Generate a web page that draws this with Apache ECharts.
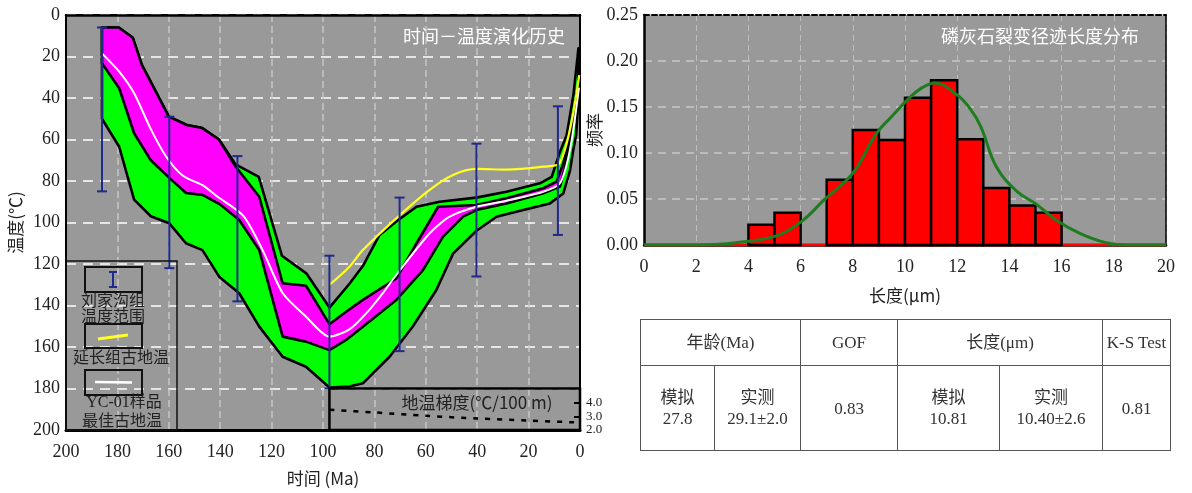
<!DOCTYPE html>
<html><head><meta charset="utf-8">
<script src="https://cdn.jsdelivr.net/npm/echarts@6/dist/echarts.min.js"></script>
<style>
html,body{margin:0;padding:0;background:#fff;}
#wrap{position:relative;width:1192px;height:493px;overflow:hidden;}
#chart{position:absolute;left:0;top:0;width:1192px;height:493px;}
#tbl{position:absolute;left:640px;top:319px;border-collapse:collapse;font-family:"Liberation Serif","Noto Sans CJK SC",serif;font-size:17px;color:#333;table-layout:fixed;}
#tbl td{border:1px solid #555;text-align:center;padding:0;line-height:21px;}
</style></head>
<body><div id="wrap"><div id="chart"></div><table id="tbl"></table></div>
<script>
// ---------- Left chart: time-temperature history (Ma, °C) ----------
const outerTop = [[186,6],[179.5,6],[174,11],[170.5,24],[165,37],[160,49],[153,53],[147,54.5],[140.5,60],[134,72],[125,78],[116,116],[106.5,124.5],[97.5,141],[89.7,129.5],[84.5,121],[78,106],[71.5,99.5],[63.6,92.4],[54.6,90],[40.3,88],[28.6,85.2],[15.6,81.1],[11,78],[7.8,66],[5.2,58],[2.5,38],[0.6,16]];
const outerBottom = [[0.6,40],[1.5,58],[2.6,65],[3.9,75],[6.5,86],[11.7,90.8],[22.1,94],[32.5,97.2],[40.3,104],[49.4,115],[55.9,132.5],[65,150],[74.1,164.7],[84.5,177.5],[89.7,179],[97.5,179.5],[106.6,169.5],[115.7,164.7],[124.8,150.2],[132.6,134.1],[140.4,126.1],[146.9,113.3],[153.3,110],[159.8,100.4],[167,97],[173.5,89],[179.3,63.5],[186,50]];
const goodTop = [[186,6],[179.5,6],[174,11],[170.5,24],[165,37],[160,49],[153,53],[147,54.5],[140.5,60],[134,73],[124.8,87.6],[115.7,129.3],[106.6,130.5],[97.5,149],[91,143],[84.5,137.3],[71.5,127],[63.6,110],[55.2,92.4],[40.3,91.6],[28.6,88.3],[14.3,83.5],[9.1,80.3],[6.5,71.5],[3.5,56],[1,36]];
const goodBottom = [[1,38],[3.5,60],[5.5,72],[7.8,82.7],[14.3,85.9],[28.6,90.8],[40.3,94],[45.5,97.2],[53.3,106.8],[61.1,122.9],[71.5,137.3],[84.5,150.2],[91,156.6],[97.5,161.5],[106.6,157.4],[115.7,155],[124.8,113.3],[132.6,98.8],[140.4,91],[146.9,86.7],[153.3,85.8],[159.8,78.5],[167,70],[173.5,57],[179.3,35.3],[186,23.3]];
const bestPath = [[186,18.5],[179.3,27.3],[173.5,37.7],[167,55],[161,68.3],[154.5,77.5],[146.9,82],[141,87.6],[131,96.8],[123.5,113.3],[115.7,134],[106.6,145.4],[97.5,155],[89.7,151.5],[83.2,143.8],[76.7,134],[71.5,125.3],[58.5,105.2],[50.7,97.2],[40.3,92.4],[28.6,89.5],[14.3,85.2],[7.8,81.1],[3.9,65],[0.4,35]];
const yanchangPaleo = [[97.5,130],[89.7,121.3],[84.5,113.3],[71.5,98],[58.5,84.3],[49.4,77.1],[40.3,74.2],[28.6,74.5],[14.3,73.1],[8,71.5],[0.3,29]];
// [age, Tmin, Tmax]
const liujiagouRange = [[186,6,85],[159.8,49,122],[133.3,68,138],[97.5,116,180],[70.2,88,162],[40.3,62,126],[8.6,44,106]];
// geothermal gradient (°C/100 m)
const gradient = [[97.5,3.5],[80,3.3],[60,3.05],[40,2.85],[20,2.7],[0,2.55]];
const gradientBox = [[97.5,180,0,200]];

// ---------- Right chart: track length histogram ----------
const binStart = [0,1,2,3,4,5,6,7,8,9,10,11,12,13,14,15,16,17,18,19];
const binFreq  = [0,0,0,0,0.022,0.035,0,0.071,0.125,0.114,0.160,0.179,0.115,0.062,0.043,0.035,0,0,0,0];
const binWidth = 1;
const fitCurve = [[0,0],[1,0],[2,0],[3,0.001],[3.5,0.0025],[4.5,0.006],[5.3,0.0125],[6.1,0.027],[6.9,0.049],[8,0.078],[8.9,0.121],[9.5,0.14],[10.1,0.158],[10.6,0.17],[11.15,0.176],[12,0.163],[12.5,0.148],[12.9,0.129],[13.5,0.085],[14.3,0.058],[15,0.045],[15.8,0.027],[16.7,0.0127],[17.7,0.0025],[18.5,0],[20,0]];

// ---------- Table ----------
const tableHead = [['年龄(Ma)',2],['GOF',1],['长度(μm)',2],['K-S Test',1]];
const tableBody = [['模拟','27.8'],['实测','29.1±2.0'],['0.83'],['模拟','10.81'],['实测','10.40±2.6'],['0.81']];
const colWidths = [74,86,97,102,103,68];

(function(){
  const t = document.getElementById('tbl');
  let html = '<colgroup>' + colWidths.map(w=>'<col style="width:'+w+'px">').join('') + '</colgroup>';
  html += '<tr style="height:46px">' + tableHead.map(h=>'<td colspan="'+h[1]+'">'+h[0]+'</td>').join('') + '</tr>';
  html += '<tr style="height:85px">' + tableBody.map(c=>'<td>'+c.join('<br>')+'</td>').join('') + '</tr>';
  t.innerHTML = html;
})();

const SERIF = '"Liberation Serif","Noto Sans CJK SC",serif';
const CJK = '"Noto Sans CJK SC","Liberation Serif",sans-serif';
const ebColor = '#1f2a8c';

function polygonRender(points, fill){
  return function(params, api){
    if (params.dataIndex !== 0) return null;
    const pts = points.map(p => api.coord(p));
    return {type:'polygon', shape:{points:pts}, style:{fill:fill, stroke:'#000', lineWidth:2.6, lineJoin:'round'}};
  };
}

const chart = echarts.init(document.getElementById('chart'));
const option = {
  animation:false,
  backgroundColor:'#fff',
  title:[
    {text:'时间－温度演化历史', right:622, top:22, textStyle:{color:'#fff', fontSize:18, fontWeight:'normal', fontFamily:CJK}},
    {text:'磷灰石裂变径迹长度分布', right:48, top:22, textStyle:{color:'#fff', fontSize:18, fontWeight:'normal', fontFamily:CJK}}
  ],
  grid:[
    {left:66, top:15, width:514, height:415, show:true, backgroundColor:'#999', borderColor:'#000', borderWidth:2},
    {left:66, top:390, width:514, height:40, show:false},
    {left:644, top:15, width:522, height:230, show:true, backgroundColor:'#999', borderWidth:0}
  ],
  xAxis:[
    {gridIndex:0, type:'value', min:0, max:200, interval:20, inverse:true, position:'bottom',
     name:'时间 (Ma)', nameLocation:'middle', nameGap:40, nameTextStyle:{fontSize:17, color:'#222', fontFamily:CJK},
     axisLine:{onZero:false, lineStyle:{color:'#000', width:3}}, axisTick:{show:false},
     axisLabel:{fontSize:18, color:'#222', fontFamily:SERIF, margin:13},
     splitLine:{show:true, lineStyle:{color:'#c6c6c6', type:[7,4], width:1.5}}},
    {gridIndex:1, type:'value', min:0, max:200, inverse:true, show:false},
    {gridIndex:2, type:'value', min:0, max:20, interval:2, position:'bottom',
     name:'长度(μm)', nameLocation:'middle', nameGap:42, nameTextStyle:{fontSize:17, color:'#222', fontFamily:CJK},
     axisLine:{onZero:false, lineStyle:{color:'#000', width:2.5}}, axisTick:{show:false},
     axisLabel:{fontSize:18, color:'#222', fontFamily:SERIF, margin:13},
     splitLine:{show:true, lineStyle:{color:'#bdbdbd', type:[6,4], width:1}}},
    {gridIndex:2, type:'value', min:0, max:20, position:'top',
     axisLine:{show:true, onZero:false, lineStyle:{color:'#000', width:2, type:[5,3]}}, axisTick:{show:false}, axisLabel:{show:false}, splitLine:{show:false}},
    {gridIndex:0, type:'value', min:0, max:200, inverse:true, position:'top',
     axisLine:{show:true, onZero:false, lineStyle:{color:'#000', width:2.5}}, axisTick:{show:false}, axisLabel:{show:false}, splitLine:{show:false}}
  ],
  yAxis:[
    {gridIndex:0, type:'value', min:0, max:200, interval:20, inverse:true, position:'left',
     name:'温度(℃)', nameLocation:'middle', nameGap:42, nameRotate:90, nameTextStyle:{fontSize:17, color:'#222', fontFamily:CJK},
     axisLine:{show:true, onZero:false, lineStyle:{color:'#000', width:2}}, axisTick:{show:false},
     axisLabel:{fontSize:18, color:'#222', fontFamily:SERIF, margin:6},
     splitLine:{show:true, lineStyle:{color:'#e6e6e6', type:[10,7], width:2}}},
    {gridIndex:1, type:'value', min:2, max:4.96, interval:1, position:'right',
     axisLine:{show:false, onZero:false},
     axisTick:{show:true, inside:true, length:6, lineStyle:{color:'#000', width:2}},
     axisLabel:{show:true, fontSize:13, color:'#222', fontFamily:SERIF, margin:6, showMinLabel:true, showMaxLabel:false, formatter:v=>Number(v).toFixed(1)},
     splitLine:{show:false}},
    {gridIndex:2, type:'value', min:0, max:0.25, interval:0.05, position:'left',
     name:'频率', nameLocation:'middle', nameGap:38, nameRotate:90, nameTextStyle:{fontSize:17, color:'#222', fontFamily:CJK},
     axisLine:{show:true, onZero:false, lineStyle:{color:'#000', width:2.5}}, axisTick:{show:false},
     axisLabel:{fontSize:18, color:'#222', fontFamily:SERIF, margin:6, formatter:v=>Number(v).toFixed(2)},
     splitLine:{show:true, lineStyle:{color:'#c8c8c8', type:[8,6], width:1.5}}},
    {gridIndex:2, type:'value', min:0, max:0.25, position:'right',
     axisLine:{show:true, onZero:false, lineStyle:{color:'#000', width:1.5}}, axisTick:{show:false}, axisLabel:{show:false}, splitLine:{show:false}},
    {gridIndex:0, type:'value', min:0, max:200, inverse:true, position:'right',
     axisLine:{show:true, onZero:false, lineStyle:{color:'#000', width:2}}, axisTick:{show:false}, axisLabel:{show:false}, splitLine:{show:false}}
  ],
  series:[
    {type:'custom', xAxisIndex:0, yAxisIndex:0, z:2, clip:true, renderItem:polygonRender(outerTop.concat(outerBottom), '#00ff00'),
     data:outerTop.concat(outerBottom), encode:{x:0,y:1}},
    {type:'custom', xAxisIndex:0, yAxisIndex:0, z:3, clip:true, renderItem:polygonRender(goodTop.concat(goodBottom), '#ff00ff'),
     data:goodTop.concat(goodBottom), encode:{x:0,y:1}},
    {type:'line', xAxisIndex:0, yAxisIndex:0, z:4, data:bestPath, smooth:0.25, showSymbol:false, symbol:'none',
     lineStyle:{color:'#ffffff', width:2}},
    {type:'line', xAxisIndex:0, yAxisIndex:0, z:5, data:yanchangPaleo, smooth:0.35, showSymbol:false, symbol:'none',
     lineStyle:{color:'#ffff22', width:2.2}},
    {type:'custom', xAxisIndex:0, yAxisIndex:0, z:6, data:liujiagouRange, encode:{x:0,y:[1,2]},
     renderItem:function(params, api){
       const a = api.coord([api.value(0), api.value(1)]);
       const b = api.coord([api.value(0), api.value(2)]);
       const w = 5, st = {stroke:ebColor, lineWidth:2};
       return {type:'group', children:[
         {type:'line', shape:{x1:a[0],y1:a[1],x2:b[0],y2:b[1]}, style:st},
         {type:'line', shape:{x1:a[0]-w,y1:a[1],x2:a[0]+w,y2:a[1]}, style:st},
         {type:'line', shape:{x1:b[0]-w,y1:b[1],x2:b[0]+w,y2:b[1]}, style:st}
       ]};
     }},
    {type:'custom', xAxisIndex:0, yAxisIndex:0, z:7, data:gradientBox, encode:{x:[0,2],y:[1,3]},
     renderItem:function(params, api){
       const p0 = api.coord([api.value(0), api.value(1)]);
       const p1 = api.coord([api.value(2), api.value(3)]);
       return {type:'rect', shape:{x:p0[0], y:p0[1], width:p1[0]-p0[0], height:p1[1]-p0[1]},
               style:{fill:'none', stroke:'#000', lineWidth:2.5}};
     }},
    {type:'line', xAxisIndex:1, yAxisIndex:1, z:8, data:gradient, smooth:0.3, showSymbol:false, symbol:'none',
     lineStyle:{color:'#000', width:2.5, type:[5,7]}},
    // histogram
    {type:'line', xAxisIndex:2, yAxisIndex:2, z:3, data:[[0,0],[20,0]], showSymbol:false, symbol:'none',
     lineStyle:{color:'#ff0000', width:3}},
    {type:'custom', xAxisIndex:2, yAxisIndex:2, z:4, data:binStart.map((s,i)=>[s,binFreq[i]]), encode:{x:0,y:1},
     renderItem:function(params, api){
       const s = api.value(0), v = api.value(1);
       if (!(v > 0)) return null;
       const p0 = api.coord([s, v]), p1 = api.coord([s + binWidth, 0]);
       return {type:'rect', shape:{x:p0[0], y:p0[1], width:p1[0]-p0[0], height:p1[1]-p0[1]},
               style:{fill:'#ff0000', stroke:'#000', lineWidth:2.5}};
     }},
    {type:'line', xAxisIndex:2, yAxisIndex:2, z:6, data:fitCurve, smooth:0.4, showSymbol:false, symbol:'none',
     lineStyle:{color:'#1e7d1e', width:3}}
  ],
  graphic:[
    {type:'rect', shape:{x:66, y:261, width:111, height:169}, style:{fill:'none', stroke:'#111', lineWidth:1.5}, z:20},
    {type:'rect', shape:{x:85, y:267, width:57, height:25}, style:{fill:'none', stroke:'#111', lineWidth:2}, z:20},
    {type:'line', shape:{x1:113, y1:272, x2:113, y2:287}, style:{stroke:ebColor, lineWidth:2}, z:21},
    {type:'line', shape:{x1:109, y1:272, x2:117, y2:272}, style:{stroke:ebColor, lineWidth:2}, z:21},
    {type:'line', shape:{x1:109, y1:287, x2:117, y2:287}, style:{stroke:ebColor, lineWidth:2}, z:21},
    {type:'text', x:113, y:300, style:{text:'刘家沟组', fill:'#222', font:'16px '+CJK, textAlign:'center', textVerticalAlign:'middle'}, z:21},
    {type:'text', x:113, y:316, style:{text:'温度范围', fill:'#222', font:'16px '+CJK, textAlign:'center', textVerticalAlign:'middle'}, z:21},
    {type:'rect', shape:{x:85, y:324, width:57, height:24}, style:{fill:'none', stroke:'#111', lineWidth:2}, z:20},
    {type:'line', shape:{x1:98, y1:339, x2:128, y2:335}, style:{stroke:'#ffff22', lineWidth:3}, z:21},
    {type:'text', x:121, y:357, style:{text:'延长组古地温', fill:'#222', font:'16px '+CJK, textAlign:'center', textVerticalAlign:'middle'}, z:21},
    {type:'rect', shape:{x:85, y:370, width:57, height:25}, style:{fill:'none', stroke:'#111', lineWidth:2}, z:20},
    {type:'line', shape:{x1:95, y1:382, x2:132, y2:382.5}, style:{stroke:'#ffffff', lineWidth:2.5}, z:21},
    {type:'text', x:124, y:403, style:{text:'YC-01样品', fill:'#222', font:'16px '+SERIF, textAlign:'center', textVerticalAlign:'middle'}, z:21},
    {type:'text', x:122, y:420, style:{text:'最佳古地温', fill:'#222', font:'16px '+CJK, textAlign:'center', textVerticalAlign:'middle'}, z:21},
    {type:'text', x:477, y:403, style:{text:'地温梯度(℃/100 m)', fill:'#222', font:'17px '+CJK, textAlign:'center', textVerticalAlign:'middle'}, z:21}
  ]
};
chart.setOption(option);
</script>
</body></html>
